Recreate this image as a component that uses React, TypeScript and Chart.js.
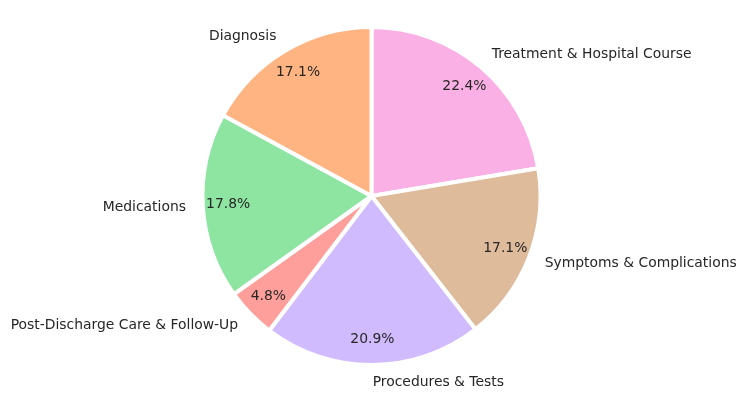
import React, { useEffect, useRef } from "react";
import { Chart, registerables } from "chart.js";

Chart.register(...registerables);

const categories = [
  "Treatment & Hospital Course",
  "Symptoms & Complications",
  "Procedures & Tests",
  "Post-Discharge Care & Follow-Up",
  "Medications",
  "Diagnosis",
];
const shares = [22.4, 17.1, 20.9, 4.8, 17.8, 17.1];
const colors = ["#fab0e4", "#debb9b", "#d0bbff", "#ff9f9b", "#8de5a1", "#ffb482"];

const FONT = '13.9px "DejaVu Sans", sans-serif';
const TEXT_COLOR = "#262626";

const labelPlugin = {
  id: "pieLabels",
  afterDatasetsDraw(chart: any) {
    const ctx = chart.ctx;
    const meta = chart.getDatasetMeta(0);
    const data = chart.data.datasets[0].data as number[];
    const total = data.reduce((a, b) => a + b, 0);
    ctx.save();
    ctx.font = FONT;
    ctx.fillStyle = TEXT_COLOR;
    meta.data.forEach((arc: any, i: number) => {
      const { x, y, startAngle, endAngle, outerRadius } = arc.getProps(
        ["x", "y", "startAngle", "endAngle", "outerRadius"],
        true
      );
      const mid = (startAngle + endAngle) / 2;
      const cx = Math.cos(mid);
      const cy = Math.sin(mid);
      // percentage
      const pr = outerRadius * 0.85;
      ctx.textAlign = "center";
      ctx.textBaseline = "middle";
      ctx.fillText(((data[i] / total) * 100).toFixed(1) + "%", x + cx * pr, y + cy * pr);
      // label
      const lr = outerRadius * 1.1;
      ctx.textAlign = cx >= 0 ? "left" : "right";
      ctx.fillText(categories[i], x + cx * lr, y + cy * lr);
    });
    ctx.restore();
  },
};

export default function App() {
  const ref = useRef<HTMLCanvasElement>(null);
  useEffect(() => {
    if (!ref.current) return;
    const chart = new Chart(ref.current, {
      type: "pie",
      data: {
        labels: categories,
        datasets: [
          {
            data: shares,
            backgroundColor: colors,
            borderColor: "#ffffff",
            borderWidth: 4,
          },
        ],
      },
      options: {
        responsive: false,
        animation: false,
        radius: 169,
        layout: { padding: { left: 0, right: 4, top: 0, bottom: 6 } },
        plugins: {
          legend: { display: false },
          tooltip: { enabled: false },
        },
      } as any,
      plugins: [labelPlugin],
    });
    return () => chart.destroy();
  }, []);
  return (
    <div style={{ position: "fixed", left: 0, top: 0, width: 747, height: 398, background: "#fff" }}>
      <canvas ref={ref} width={747} height={398} />
    </div>
  );
}
